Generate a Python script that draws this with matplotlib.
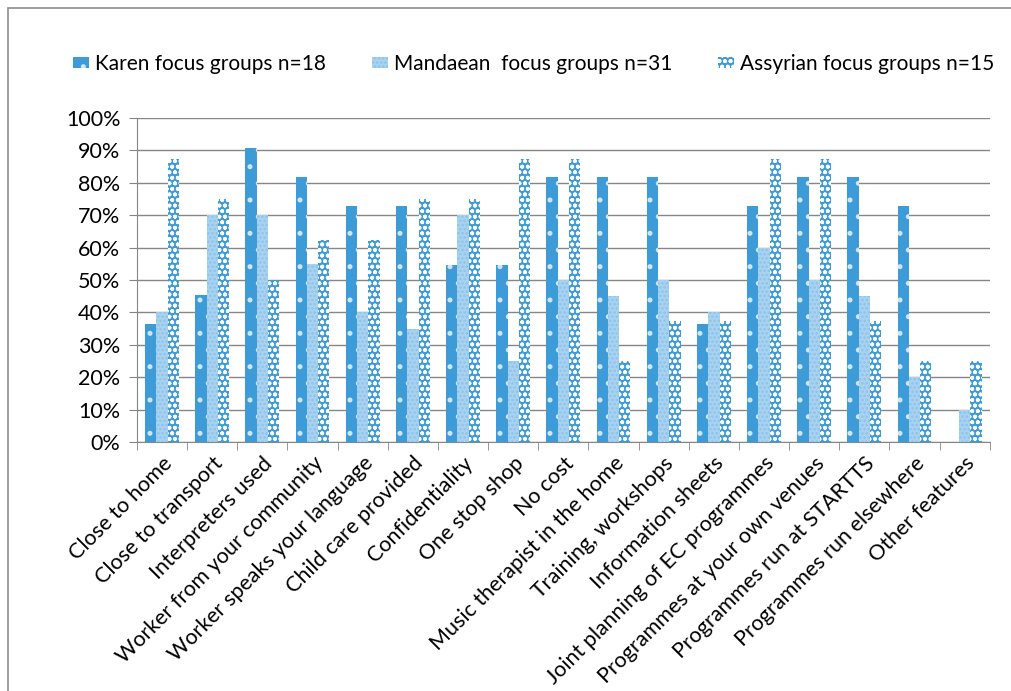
import numpy as np
import matplotlib.pyplot as plt
from matplotlib.patches import Rectangle
from matplotlib.ticker import FixedLocator, PercentFormatter
from matplotlib.transforms import ScaledTranslation

features = [
    "Close to home", "Close to transport", "Interpreters used",
    "Worker from your community", "Worker speaks your language",
    "Child care provided", "Confidentiality", "One stop shop", "No cost",
    "Music therapist in the home", "Training, workshops",
    "Information sheets", "Joint planning of EC programmes",
    "Programmes at your own venues", "Programmes run at STARTTS",
    "Programmes run elsewhere", "Other features",
]
karen = [36.4, 45.5, 90.9, 81.8, 72.7, 72.7, 54.5, 54.5, 81.8, 81.8, 81.8,
         36.4, 72.7, 81.8, 81.8, 72.7, 0]
mandaean = [40, 70, 70, 55, 40, 35, 70, 25, 50, 45, 50, 40, 60, 50, 45, 20, 10]
assyrian = [87.5, 75, 50, 62.5, 62.5, 75, 75, 87.5, 87.5, 25, 37.5, 37.5,
            87.5, 87.5, 37.5, 25, 25]
series_names = ["Karen focus groups n=18", "Mandaean  focus groups n=31",
                "Assyrian focus groups n=15"]

plt.rcParams['font.family'] = ['Lato', 'DejaVu Sans']
plt.rcParams['hatch.linewidth'] = 1.2

fig = plt.figure(figsize=(10.11, 6.91), dpi=100)
ax = fig.add_axes([0.1355, 0.3603, 0.8435, 0.4689])

# outer chart border
fig.patches.append(Rectangle((8 / 1011, -0.1), 1.1, 1 - 8 / 691 + 0.1,
                             transform=fig.transFigure, fill=False,
                             edgecolor='#8c8c8c', linewidth=1.2))

x = np.arange(len(features))
w = 0.225
styles = [
    dict(color='#3d9bd8', edgecolor='#cfe6f7', hatch='.'),
    dict(color='#a8d2f0', edgecolor='#8cc3ea', hatch='....'),
    dict(color='#3d9bd8', edgecolor='white', hatch='ooo'),
]
for i, (vals, name, st) in enumerate(zip([karen, mandaean, assyrian],
                                         series_names, styles)):
    ax.bar(x + (i - 1) * w, vals, w, label=name, facecolor=st['color'],
           edgecolor=st['edgecolor'], hatch=st['hatch'], linewidth=0,
           zorder=3)

ax.set_xlim(-0.5, len(features) - 0.5)
ax.set_ylim(0, 100)
ax.set_yticks(np.arange(0, 101, 10))
ax.yaxis.set_major_formatter(PercentFormatter(decimals=0))
ax.grid(axis='y', color='#868686', linewidth=1, zorder=0)

ax.set_xticks(x)
ax.set_xticklabels(features, rotation=45, ha='right', va='top',
                   rotation_mode='anchor', fontsize=15.5)
shift = ScaledTranslation(-8 / 72, 0, fig.dpi_scale_trans)
for lbl in ax.get_xticklabels():
    lbl.set_transform(lbl.get_transform() + shift)
ax.tick_params(axis='x', which='major', length=0, pad=8)
ax.xaxis.set_minor_locator(FixedLocator(np.arange(-0.5, len(features), 1)))
ax.tick_params(axis='x', which='minor', length=6, color='#868686')
ax.tick_params(axis='y', length=6, color='#868686', labelsize=15.5, pad=6)

for side in ['top', 'right']:
    ax.spines[side].set_visible(False)
for side in ['left', 'bottom']:
    ax.spines[side].set_color('#868686')

fig.legend(loc='center', bbox_to_anchor=(0.528, 0.907), ncol=3, frameon=False,
           fontsize=15, handlelength=0.75, handleheight=0.45, handletextpad=0.3,
           columnspacing=2.2)

fig.savefig('out.png', dpi=100)
